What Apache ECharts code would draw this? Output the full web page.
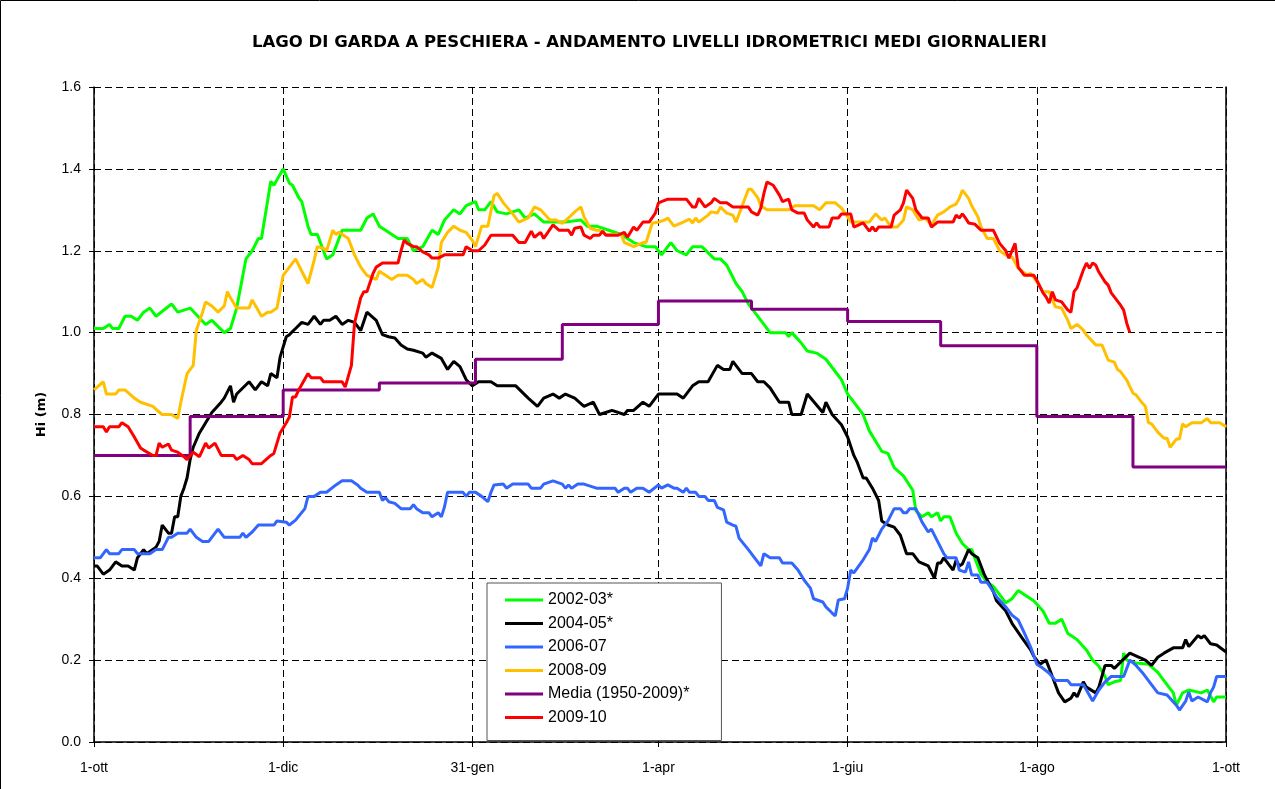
<!DOCTYPE html>
<html>
<head>
<meta charset="utf-8">
<script src="https://cdn.jsdelivr.net/npm/echarts@6/dist/echarts.min.js"></script>
<style>
  html, body { margin: 0; padding: 0; background: #fff; }
  #chart { width: 1275px; height: 789px; }
</style>
</head>
<body>
<div id="chart"></div>
<script>
// days counted from 1 October
const tickDays = [0, 61, 122, 182, 243, 304, 365];
const tickLabels = ['1-ott', '1-dic', '31-gen', '1-apr', '1-giu', '1-ago', '1-ott'];

const seriesNames = ['2002-03*', '2004-05*', '2006-07', '2008-09', 'Media (1950-2009)*', '2009-10'];
const seriesColors = ['#00ff00', '#000000', '#3366ff', '#ffc000', '#800080', '#ff0000'];

const y2002 = [[0,1.01],[3,1.01],[5,1.02],[6,1.01],[8,1.01],[10,1.04],[12,1.04],[14,1.03],[16,1.05],[18,1.06],[20,1.04],[25,1.07],[27,1.05],[31,1.06],[36,1.02],[38,1.03],[42,1.00],[44,1.01],[46,1.06],[49,1.18],[51,1.20],[53,1.23],[54,1.23],[57,1.37],[58,1.36],[61,1.40],[63,1.365],[64,1.36],[66,1.33],[67,1.32],[69,1.26],[70,1.24],[72,1.24],[75,1.18],[77,1.19],[80,1.25],[86,1.25],[88,1.28],[90,1.29],[92,1.26],[94,1.25],[98,1.23],[101,1.23],[103,1.20],[106,1.21],[109,1.25],[111,1.24],[113,1.275],[116,1.30],[118,1.29],[120,1.31],[123,1.32],[124,1.30],[126,1.30],[128,1.32],[130,1.295],[133,1.29],[137,1.30],[139,1.28],[142,1.29],[145,1.27],[152,1.27],[157,1.275],[159,1.26],[162,1.26],[166,1.25],[170,1.24],[174,1.22],[178,1.21],[181,1.21],[183,1.19],[185,1.21],[186,1.22],[188,1.20],[191,1.19],[193,1.21],[196,1.21],[200,1.18],[202,1.18],[204,1.165],[207,1.12],[209,1.10],[211,1.07],[213,1.05],[216,1.02],[218,1.00],[223,1.00],[224,0.99],[225,1.00],[228,0.975],[230,0.955],[233,0.95],[236,0.935],[239,0.905],[241,0.885],[243,0.85],[245,0.83],[248,0.80],[250,0.76],[254,0.71],[256,0.705],[258,0.67],[261,0.65],[264,0.615],[265,0.565],[267,0.55],[269,0.56],[270,0.55],[272,0.56],[273,0.54],[274,0.55],[276,0.55],[278,0.51],[280,0.485],[282,0.47],[283,0.47],[286,0.41],[288,0.39],[290,0.38],[294,0.34],[296,0.35],[298,0.37],[301,0.355],[303,0.345],[306,0.32],[308,0.29],[310,0.29],[312,0.30],[314,0.265],[316,0.255],[317,0.25],[320,0.225],[322,0.20],[324,0.185],[326,0.16],[327,0.14],[329,0.147],[331,0.15],[332,0.217],[333,0.20],[336,0.193],[340,0.19],[343,0.17],[345,0.15],[348,0.12],[349,0.09],[351,0.12],[353,0.127],[357,0.12],[359,0.127],[361,0.098],[362,0.11],[365,0.11]];

const y2004 = [[0,0.43],[1,0.43],[3,0.41],[5,0.42],[7,0.44],[9,0.43],[11,0.43],[13,0.42],[14,0.45],[16,0.47],[17,0.46],[20,0.476],[21,0.49],[22,0.53],[24,0.51],[25,0.51],[26,0.55],[27,0.55],[28,0.60],[29,0.62],[30,0.645],[31,0.69],[32,0.72],[34,0.755],[36,0.78],[38,0.805],[41,0.83],[42,0.84],[44,0.87],[45,0.83],[46,0.85],[50,0.88],[52,0.86],[54,0.88],[56,0.87],[57,0.90],[59,0.89],[60,0.94],[62,0.99],[63,0.995],[65,1.01],[67,1.025],[69,1.02],[71,1.04],[73,1.02],[74,1.03],[76,1.03],[78,1.04],[80,1.02],[82,1.03],[84,1.025],[86,1.005],[88,1.05],[91,1.03],[93,0.995],[95,0.99],[97,0.987],[99,0.97],[101,0.96],[103,0.957],[106,0.95],[107,0.94],[109,0.95],[112,0.937],[114,0.91],[116,0.93],[118,0.917],[120,0.885],[122,0.87],[124,0.88],[128,0.88],[130,0.87],[136,0.87],[140,0.84],[143,0.82],[145,0.84],[148,0.85],[150,0.84],[152,0.85],[155,0.84],[158,0.82],[161,0.83],[163,0.80],[165,0.805],[167,0.81],[171,0.80],[172,0.81],[174,0.81],[177,0.83],[179,0.82],[182,0.85],[184,0.85],[188,0.85],[190,0.84],[193,0.87],[195,0.88],[198,0.88],[201,0.92],[203,0.91],[205,0.91],[206,0.93],[209,0.90],[212,0.90],[214,0.88],[216,0.88],[218,0.865],[221,0.83],[224,0.83],[225,0.80],[228,0.80],[230,0.85],[235,0.805],[236,0.83],[238,0.80],[241,0.775],[243,0.745],[245,0.70],[246,0.685],[248,0.645],[249,0.645],[251,0.62],[253,0.59],[254,0.54],[256,0.53],[258,0.525],[260,0.505],[262,0.46],[264,0.46],[266,0.44],[269,0.43],[271,0.40],[272,0.437],[273,0.437],[274,0.45],[277,0.42],[278,0.445],[279,0.43],[280,0.435],[282,0.47],[283,0.46],[285,0.45],[287,0.41],[290,0.367],[291,0.345],[294,0.32],[296,0.29],[299,0.257],[302,0.225],[303,0.21],[305,0.19],[307,0.20],[309,0.16],[311,0.12],[313,0.098],[315,0.107],[316,0.12],[317,0.11],[319,0.147],[320,0.134],[323,0.12],[324,0.134],[326,0.187],[328,0.187],[329,0.18],[331,0.195],[334,0.217],[337,0.207],[339,0.20],[341,0.187],[343,0.207],[345,0.217],[348,0.23],[351,0.23],[352,0.25],[353,0.233],[356,0.26],[357,0.254],[358,0.26],[360,0.24],[362,0.237],[365,0.22]];

const y2006 = [[0,0.45],[2,0.45],[4,0.47],[5,0.46],[8,0.46],[9,0.47],[13,0.47],[14,0.46],[18,0.46],[20,0.47],[22,0.47],[24,0.50],[25,0.50],[27,0.51],[30,0.51],[31,0.52],[33,0.50],[35,0.49],[37,0.49],[40,0.52],[42,0.50],[47,0.50],[48,0.51],[49,0.50],[51,0.513],[53,0.53],[58,0.53],[59,0.54],[62,0.537],[63,0.53],[65,0.542],[68,0.57],[69,0.60],[71,0.60],[73,0.61],[75,0.61],[78,0.628],[80,0.638],[83,0.638],[85,0.628],[86,0.62],[88,0.61],[92,0.61],[93,0.59],[94,0.597],[95,0.587],[97,0.583],[99,0.57],[102,0.57],[103,0.58],[104,0.57],[106,0.56],[108,0.56],[109,0.55],[111,0.56],[112,0.55],[113,0.574],[114,0.61],[119,0.61],[120,0.60],[121,0.61],[123,0.61],[125,0.60],[127,0.587],[128,0.61],[129,0.628],[132,0.63],[133,0.62],[135,0.63],[140,0.63],[141,0.62],[144,0.62],[145,0.63],[148,0.638],[151,0.63],[152,0.62],[153,0.628],[154,0.62],[156,0.63],[158,0.63],[162,0.62],[168,0.62],[169,0.61],[171,0.62],[172,0.62],[173,0.61],[175,0.62],[177,0.62],[179,0.61],[182,0.628],[183,0.62],[185,0.628],[187,0.62],[188,0.62],[190,0.61],[191,0.62],[192,0.61],[194,0.61],[195,0.60],[197,0.60],[198,0.59],[200,0.59],[201,0.573],[203,0.567],[204,0.537],[206,0.53],[207,0.527],[208,0.498],[211,0.47],[213,0.45],[215,0.43],[216,0.46],[218,0.45],[221,0.45],[222,0.437],[225,0.437],[227,0.42],[229,0.395],[231,0.376],[232,0.35],[235,0.342],[236,0.33],[238,0.315],[239,0.308],[240,0.347],[242,0.35],[243,0.376],[244,0.42],[245,0.413],[248,0.445],[250,0.47],[251,0.498],[252,0.49],[254,0.52],[256,0.54],[258,0.57],[260,0.57],[261,0.56],[262,0.56],[263,0.57],[265,0.57],[267,0.537],[269,0.513],[270,0.52],[272,0.49],[274,0.46],[275,0.45],[278,0.45],[279,0.42],[281,0.415],[282,0.44],[283,0.408],[285,0.408],[286,0.39],[288,0.39],[290,0.367],[291,0.355],[294,0.33],[296,0.31],[298,0.298],[300,0.266],[302,0.232],[303,0.212],[304,0.19],[306,0.18],[308,0.168],[310,0.15],[314,0.15],[315,0.14],[319,0.14],[320,0.127],[322,0.10],[324,0.127],[326,0.147],[328,0.16],[332,0.16],[334,0.20],[336,0.187],[338,0.17],[340,0.15],[343,0.12],[346,0.115],[349,0.09],[350,0.078],[352,0.10],[353,0.122],[354,0.10],[356,0.11],[359,0.098],[360,0.12],[361,0.134],[362,0.16],[365,0.16]];

const y2008 = [[0,0.86],[3,0.88],[4,0.85],[7,0.85],[8,0.86],[10,0.86],[13,0.84],[15,0.83],[19,0.82],[21,0.806],[22,0.80],[25,0.80],[27,0.79],[28,0.83],[30,0.90],[32,0.92],[33,1.006],[35,1.05],[36,1.075],[38,1.065],[40,1.05],[42,1.065],[43,1.10],[44,1.085],[46,1.06],[50,1.06],[51,1.08],[54,1.04],[56,1.05],[57,1.05],[59,1.06],[61,1.14],[63,1.16],[65,1.18],[67,1.15],[69,1.12],[71,1.177],[72,1.21],[74,1.206],[75,1.20],[77,1.25],[78,1.24],[79,1.245],[82,1.23],[84,1.19],[86,1.16],[88,1.14],[91,1.13],[92,1.15],[94,1.14],[96,1.13],[98,1.14],[101,1.14],[103,1.13],[104,1.12],[106,1.13],[107,1.12],[109,1.11],[111,1.16],[112,1.22],[114,1.245],[116,1.26],[118,1.25],[120,1.245],[122,1.225],[123,1.21],[125,1.26],[127,1.26],[129,1.335],[130,1.34],[132,1.317],[135,1.29],[137,1.27],[140,1.28],[142,1.307],[144,1.30],[147,1.275],[149,1.275],[151,1.267],[153,1.28],[155,1.295],[157,1.307],[158,1.283],[160,1.255],[162,1.25],[163,1.25],[165,1.24],[170,1.24],[171,1.22],[173,1.214],[174,1.21],[177,1.22],[178,1.22],[180,1.267],[182,1.27],[184,1.275],[185,1.28],[187,1.26],[190,1.27],[192,1.277],[193,1.268],[194,1.28],[195,1.27],[198,1.287],[199,1.295],[201,1.292],[202,1.307],[204,1.292],[206,1.287],[207,1.27],[209,1.31],[211,1.35],[212,1.35],[214,1.33],[215,1.31],[217,1.30],[224,1.30],[226,1.31],[232,1.31],[234,1.30],[236,1.317],[239,1.317],[241,1.304],[243,1.283],[244,1.27],[248,1.27],[250,1.27],[252,1.29],[254,1.275],[255,1.28],[257,1.258],[259,1.258],[261,1.275],[262,1.307],[264,1.30],[266,1.275],[268,1.28],[270,1.263],[272,1.287],[274,1.295],[276,1.307],[278,1.314],[279,1.328],[280,1.348],[282,1.328],[283,1.31],[285,1.283],[286,1.258],[288,1.23],[290,1.23],[292,1.20],[295,1.185],[296,1.185],[298,1.157],[301,1.14],[302,1.145],[304,1.124],[306,1.10],[308,1.10],[309,1.08],[310,1.063],[312,1.06],[314,1.03],[315,1.01],[317,1.02],[319,1.006],[320,0.994],[323,0.97],[325,0.97],[327,0.933],[329,0.928],[330,0.91],[331,0.905],[333,0.884],[335,0.852],[336,0.848],[338,0.828],[339,0.82],[340,0.78],[341,0.777],[343,0.757],[345,0.742],[346,0.742],[347,0.72],[349,0.74],[350,0.74],[351,0.777],[352,0.77],[354,0.78],[357,0.78],[359,0.79],[360,0.78],[363,0.78],[365,0.77]];

const mediaStartDays = [0, 31, 61, 92, 123, 151, 182, 212, 243, 273, 304, 335, 365];
const mediaValues = [0.70, 0.795, 0.86, 0.877, 0.935, 1.02, 1.077, 1.057, 1.027, 0.968, 0.795, 0.672, 0.672];

const y2009 = [[0,0.77],[3,0.77],[4,0.757],[5,0.77],[8,0.77],[9,0.78],[11,0.77],[13,0.745],[15,0.718],[16,0.713],[19,0.70],[20,0.70],[21,0.73],[22,0.72],[24,0.728],[25,0.713],[27,0.708],[29,0.697],[30,0.69],[32,0.708],[34,0.697],[36,0.73],[37,0.718],[39,0.73],[41,0.70],[45,0.70],[46,0.69],[48,0.70],[50,0.69],[51,0.68],[54,0.68],[57,0.70],[58,0.705],[60,0.755],[62,0.78],[63,0.794],[64,0.843],[65,0.843],[66,0.86],[69,0.90],[70,0.89],[73,0.89],[74,0.88],[80,0.88],[81,0.867],[83,0.92],[84,1.023],[86,1.085],[87,1.10],[88,1.10],[90,1.145],[91,1.16],[93,1.17],[98,1.17],[99,1.20],[100,1.226],[101,1.218],[103,1.21],[104,1.21],[106,1.197],[108,1.19],[109,1.182],[111,1.182],[113,1.19],[119,1.19],[120,1.21],[122,1.20],[124,1.20],[126,1.214],[128,1.238],[135,1.238],[137,1.22],[139,1.22],[141,1.248],[142,1.233],[144,1.245],[145,1.23],[148,1.263],[150,1.25],[153,1.25],[154,1.238],[155,1.255],[157,1.258],[158,1.238],[160,1.23],[161,1.238],[163,1.238],[164,1.248],[165,1.238],[169,1.238],[171,1.245],[172,1.233],[174,1.258],[175,1.25],[177,1.27],[179,1.27],[181,1.292],[182,1.317],[185,1.326],[191,1.326],[193,1.307],[194,1.307],[195,1.328],[197,1.307],[199,1.317],[200,1.328],[202,1.317],[204,1.317],[206,1.307],[211,1.307],[212,1.295],[214,1.287],[215,1.304],[216,1.34],[217,1.368],[219,1.36],[221,1.336],[222,1.32],[224,1.326],[225,1.30],[227,1.292],[229,1.292],[230,1.275],[232,1.258],[233,1.268],[234,1.258],[237,1.258],[238,1.28],[240,1.28],[241,1.29],[244,1.29],[245,1.258],[248,1.268],[250,1.248],[251,1.258],[252,1.248],[253,1.258],[257,1.258],[258,1.287],[260,1.30],[261,1.317],[262,1.348],[264,1.328],[265,1.30],[267,1.28],[269,1.28],[270,1.258],[272,1.27],[277,1.27],[278,1.287],[279,1.28],[280,1.29],[281,1.28],[282,1.268],[284,1.265],[286,1.25],[290,1.25],[292,1.218],[294,1.20],[295,1.182],[297,1.218],[298,1.16],[300,1.14],[303,1.14],[304,1.128],[306,1.097],[307,1.087],[308,1.072],[309,1.10],[310,1.08],[312,1.075],[314,1.055],[315,1.05],[316,1.10],[317,1.11],[319,1.153],[320,1.17],[321,1.157],[322,1.17],[323,1.165],[324,1.148],[326,1.124],[327,1.116],[328,1.097],[331,1.067],[332,1.055],[333,1.023],[334,1.00]];

const mediaData = mediaStartDays.map((d, i) => [d, mediaValues[i]]);
const allData = [y2002, y2004, y2006, y2008, mediaData, y2009];

const chart = echarts.init(document.getElementById('chart'));

const dash = { color: '#000', width: 1, type: [7, 4] };

const option = {
  backgroundColor: '#fff',
  animation: false,
  title: {
    text: 'LAGO DI GARDA A PESCHIERA - ANDAMENTO LIVELLI IDROMETRICI MEDI GIORNALIERI',
    left: 247,
    top: 29,
    textStyle: { fontFamily: 'DejaVu Sans', fontWeight: 'bold', fontSize: 16.5, color: '#000' }
  },
  graphic: [{
    type: 'rect',
    shape: { x: 0.5, y: 0.5, width: 1290, height: 800 },
    style: { fill: 'none', stroke: '#000', lineWidth: 1 }
  }],
  legend: {
    orient: 'vertical',
    left: 487,
    top: 583,
    padding: [9, 32, 15, 18],
    itemGap: 7.5,
    itemWidth: 38,
    itemHeight: 3,
    icon: 'rect',
    backgroundColor: '#fff',
    borderColor: '#555',
    borderWidth: 1,
    borderRadius: 0,
    textStyle: { fontFamily: 'Liberation Sans', fontSize: 16, lineHeight: 16, color: '#000' },
    data: seriesNames
  },
  grid: { left: 94, right: 49, top: 87, bottom: 47, containLabel: false },
  xAxis: {
    type: 'value',
    min: 0,
    max: 365,
    axisLine: { show: true, lineStyle: { color: '#000', width: 1.5 } },
    axisTick: { show: true, inside: false, length: 5, customValues: tickDays, lineStyle: { color: '#000' } },
    axisLabel: {
      customValues: tickDays,
      margin: 19,
      fontFamily: 'Liberation Sans',
      fontSize: 14,
      color: '#000',
      formatter: function (v) {
        const i = tickDays.indexOf(v);
        return i >= 0 ? tickLabels[i] : '';
      }
    },
    splitLine: { show: true, lineStyle: dash }
  },
  yAxis: [{
    type: 'value',
    min: 0,
    max: 1.6,
    interval: 0.2,
    name: 'Hi (m)',
    nameLocation: 'middle',
    nameGap: 46,
    nameRotate: 90,
    nameTextStyle: { fontFamily: 'DejaVu Sans', fontWeight: 'bold', fontSize: 13, color: '#000' },
    axisLine: { show: true, lineStyle: { color: '#000', width: 1.5 } },
    axisTick: { show: true, length: 5, lineStyle: { color: '#000' } },
    axisLabel: {
      margin: 13,
      fontFamily: 'Liberation Sans',
      fontSize: 14,
      color: '#000',
      formatter: function (v) { return v.toFixed(1); }
    },
    splitLine: { show: true, lineStyle: dash }
  }, {
    type: 'value',
    min: 0,
    max: 1.6,
    interval: 0.2,
    position: 'right',
    axisLine: { show: true, lineStyle: { color: '#000', width: 1.5 } },
    axisTick: { show: false },
    axisLabel: { show: false },
    splitLine: { show: false }
  }],
  series: seriesNames.map((name, i) => ({
    name: name,
    type: 'line',
    data: allData[i],
    step: i === 4 ? 'end' : false,
    symbol: 'none',
    color: seriesColors[i],
    lineStyle: { color: seriesColors[i], width: 3 },
    z: 2 + i
  }))
};

chart.setOption(option);
</script>
</body>
</html>
